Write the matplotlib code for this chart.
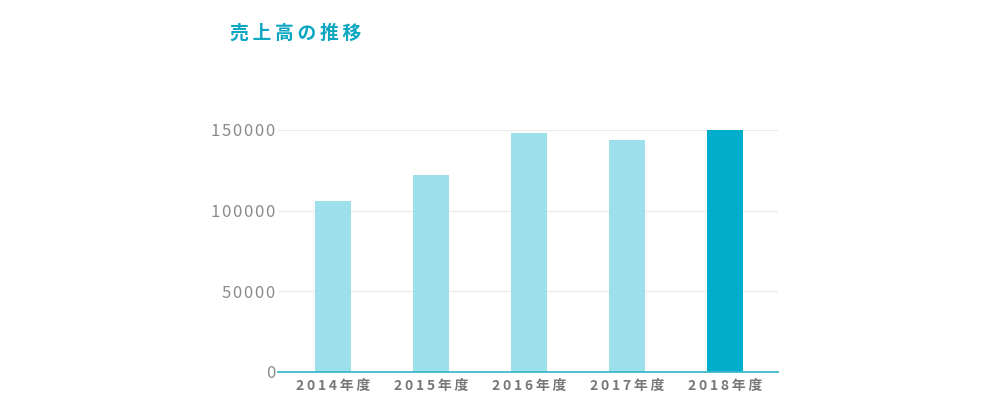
import matplotlib.pyplot as plt
import numpy as np

plt.rcParams['font.family'] = ['Noto Sans CJK JP', 'DejaVu Sans']

# data
years = ["2014年度", "2015年度", "2016年度", "2017年度", "2018年度"]
sales = [106000, 122000, 148000, 143800, 150000]
y_ticks = [0, 50000, 100000, 150000]
title = "売上高の推移"

light = "#9ddfea"
dark = "#00aecb"
colors = [light] * (len(years) - 1) + [dark]

THIN = "\u2009"  # thin space, fakes the letter spacing
HAIR = "\u200a"  # hair space, tighter


def spaced(s, sp=THIN):
    return sp.join(s)


fig = plt.figure(figsize=(10, 4.2), dpi=100)
ax = fig.add_axes([0.278, 0.1143, 0.5, 0.5762])

x = np.arange(len(years))
ax.bar(x, sales, width=0.367, color=colors, zorder=2)

ax.set_xlim(-0.56, len(years) - 1 + 0.54)
ax.set_ylim(0, 150000)

# grid lines
ax.set_axisbelow(True)
ax.set_yticks(y_ticks)
ax.set_yticklabels([spaced(str(v), HAIR) for v in y_ticks], fontsize=12,
                   color="#8a8a8a")
ax.yaxis.grid(True, color="#ececec", linewidth=1)
ax.axhline(0, color="#3db9cd", linewidth=1.3, zorder=3, clip_on=False)

ax.set_xticks(x)
ax.set_xticklabels([spaced(y) for y in years], fontsize=10, color="#777777",
                   fontweight="bold")

for side in ["top", "right", "left", "bottom"]:
    ax.spines[side].set_visible(False)
ax.tick_params(axis="both", length=0)
ax.tick_params(axis="y", pad=2)
ax.tick_params(axis="x", pad=5)

# TITLE
fig.text(0.23, 0.922, spaced(title), fontsize=13.5, fontweight="bold",
         color="#0aa6c2", ha="left", va="center")

fig.savefig("out.png", dpi=100)
